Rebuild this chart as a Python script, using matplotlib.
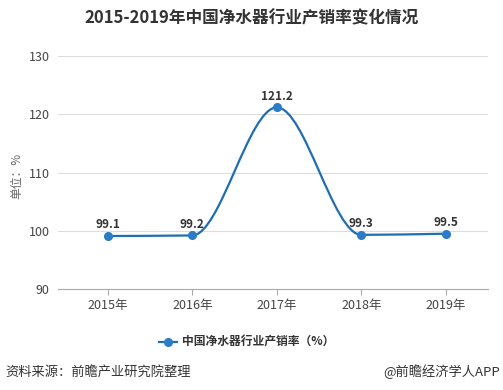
import numpy as np
import matplotlib
matplotlib.use('Agg')
import matplotlib.pyplot as plt
from matplotlib.path import Path
from matplotlib.patches import PathPatch

plt.rcParams['font.family'] = ['Noto Sans CJK SC', 'DejaVu Sans']

# 数据
years = ['2015年', '2016年', '2017年', '2018年', '2019年']
rate = [99.1, 99.2, 121.2, 99.3, 99.5]
y_ticks = [90, 100, 110, 120, 130]

LINE_COLOR = '#1f6db5'
MARK_COLOR = '#2a7bc8'


def monotone_path(xs, ys):
    """单调三次曲线 -> 贝塞尔路径 (平滑折线)"""
    xs = np.asarray(xs, float)
    ys = np.asarray(ys, float)
    h = np.diff(xs)
    d = np.diff(ys) / h
    m = np.zeros_like(ys)
    m[0], m[-1] = d[0], d[-1]
    for i in range(1, len(ys) - 1):
        if d[i - 1] * d[i] <= 0:
            m[i] = 0
        else:
            m[i] = 2 / (1 / d[i - 1] + 1 / d[i])
    verts = [(xs[0], ys[0])]
    codes = [Path.MOVETO]
    for i in range(len(xs) - 1):
        verts += [(xs[i] + h[i] / 3, ys[i] + m[i] * h[i] / 3),
                  (xs[i + 1] - h[i] / 3, ys[i + 1] - m[i + 1] * h[i] / 3),
                  (xs[i + 1], ys[i + 1])]
        codes += [Path.CURVE4] * 3
    return Path(verts, codes)


fig = plt.figure(figsize=(5.03, 3.9), dpi=100)
ax = fig.add_axes([0.1153, 0.259, 0.855, 0.597])

x = np.arange(len(years))
ax.add_patch(PathPatch(monotone_path(x, rate), facecolor='none',
                       edgecolor=LINE_COLOR, linewidth=1.6, zorder=3))
ax.plot(x, rate, linestyle='none', marker='o', markersize=5.5,
        color=MARK_COLOR, zorder=4)

for xi, v in zip(x, rate):
    ax.annotate(f'{v}', (xi, v), xytext=(0, 3.5), textcoords='offset points',
                ha='center', va='bottom', fontsize=8.5, fontweight='bold',
                color='#333333')

ax.set_xlim(-0.59, 4.5)
ax.set_ylim(90, 130)
ax.set_yticks(y_ticks)
ax.set_xticks(x)
ax.set_xticklabels(years)
ax.grid(True, axis='y', color='#dddddd', linewidth=0.8)
ax.set_axisbelow(True)
for s in ['top', 'right', 'left']:
    ax.spines[s].set_visible(False)
ax.spines['bottom'].set_color('#aaaaaa')
ax.tick_params(axis='y', length=0, labelsize=9, labelcolor='#444444', pad=6)
ax.tick_params(axis='x', length=4, color='#aaaaaa', labelsize=9,
               labelcolor='#444444', pad=3)

fig.text(0.034, 0.55, '单位：%', rotation=90, ha='center', va='center',
         fontsize=8.5, color='#666666')

fig.text(0.5, 0.953, '2015-2019年中国净水器行业产销率变化情况', ha='center',
         va='center', fontsize=12, fontweight='bold', color='#333333')

# 图例
fig.add_artist(plt.Line2D([0.317, 0.3345, 0.352], [0.123, 0.123, 0.123],
                          color=LINE_COLOR, linewidth=1.6, marker='o',
                          markevery=[1], markersize=5.5,
                          markerfacecolor=MARK_COLOR,
                          markeredgecolor=MARK_COLOR))
fig.text(0.362, 0.123, '中国净水器行业产销率（%）', ha='left', va='center',
         fontsize=8.5, fontweight='bold', color='#333333')

fig.text(0.01, 0.046, '资料来源：前瞻产业研究院整理', ha='left', va='center',
         fontsize=9.5, color='#333333')
fig.text(0.995, 0.046, '@前瞻经济学人APP', ha='right', va='center',
         fontsize=9.5, color='#333333')

fig.savefig('out.png', dpi=100)
